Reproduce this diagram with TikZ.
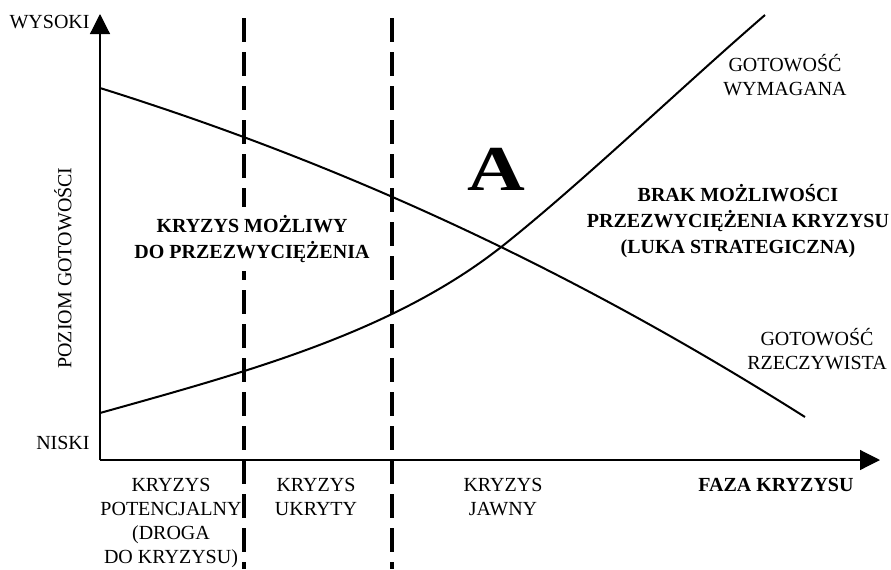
\documentclass[tikz,border=0pt]{standalone}
\usepackage{fontspec}
\setmainfont{Liberation Serif}
\usetikzlibrary{arrows.meta,positioning}

\begin{document}
\begin{tikzpicture}[x=0.5pt,y=-0.5pt,
    axis/.style={line width=0.6pt,-{Triangle[length=10pt,width=10pt]}},
    curve/.style={line width=1pt},
    phase/.style={line width=1.6pt,dash pattern=on 12pt off 5pt},
    lbl/.style={font=\fontsize{10}{12}\selectfont,align=center,inner sep=0pt},
    bold/.style={lbl,font=\fontsize{10}{13}\selectfont\bfseries}]
  \useasboundingbox (0,0) rectangle (891,569);
  % axes
  \coordinate (origin) at (100,460);
  \coordinate (ytop) at (100,14);
  \coordinate (xend) at (880,460);
  \draw[axis] (origin) -- (ytop);
  \draw[axis] (origin) -- (xend);
  % phase borders
  \coordinate (b1top) at (244,18);
  \coordinate (b1bot) at (244,569);
  \coordinate (b2top) at (392,18);
  \coordinate (b2bot) at (392,569);
  \draw[phase] (b1top) -- (b1bot);
  \draw[phase] (b2top) -- (b2bot);
  % readiness curves
  \coordinate (actstart) at (100,88);
  \coordinate (actend) at (805,417);
  \coordinate (reqstart) at (100,413);
  \coordinate (cross) at (505,244);
  \coordinate (reqend) at (765,15);
  \draw[curve] (actstart) .. controls (330,160) and (560,262) .. (actend);
  \draw[curve] (reqstart) .. controls (250,371) and (395,332) .. (cross)
    .. controls (585,180) and (685,84) .. (reqend);
  % labels
  \node[lbl,anchor=east] (high) at (90,22) {WYSOKI};
  \node[lbl,anchor=east] (low) at (90,443) {NISKI};
  \node[lbl,rotate=90] (ylabel) at (63,268) {POZIOM GOTOWOŚCI};
  \node[font=\fontsize{32}{32}\selectfont\bfseries,inner sep=0pt,xscale=1.25] (zoneA) at (496,169) {A};
  \node[bold,fill=white,inner sep=4pt,anchor=north] (possible) at (252,207) {KRYZYS MOŻLIWY\\DO PRZEZWYCIĘŻENIA};
  \node[bold,anchor=north] (gap) at (738,184) {BRAK MOŻLIWOŚCI\\PRZEZWYCIĘŻENIA KRYZYSU\\(LUKA STRATEGICZNA)};
  \node[lbl,anchor=north] (required) at (785,54) {GOTOWOŚĆ\\WYMAGANA};
  \node[lbl,anchor=north] (actual) at (817,328) {GOTOWOŚĆ\\RZECZYWISTA};
  % phases on the time axis
  \node[lbl,anchor=north] (potential) at (171,478) {KRYZYS\\POTENCJALNY\\(DROGA\\DO KRYZYSU)};
  \node[lbl,anchor=north] (hidden) at (316,478) {KRYZYS\\UKRYTY};
  \node[lbl,anchor=north] (open) at (503,478) {KRYZYS\\JAWNY};
  \node[bold,anchor=north] (phasename) at (776,478) {FAZA KRYZYSU};
\end{tikzpicture}
\end{document}
